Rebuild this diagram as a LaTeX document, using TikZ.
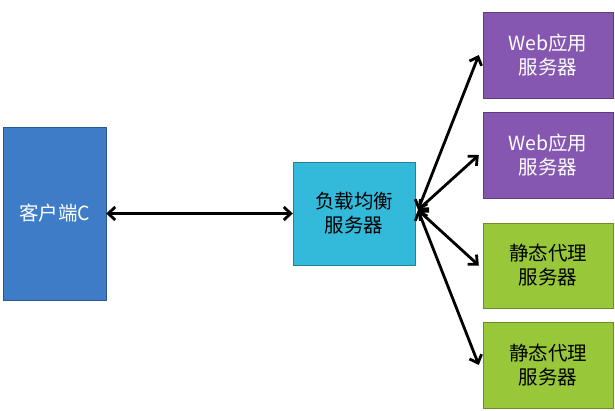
\documentclass[tikz,border=0pt]{standalone}
\usepackage{fontspec}
\newfontfamily\cjk{Noto Sans CJK SC}
\usetikzlibrary{arrows.meta}
\definecolor{cblue}{HTML}{3F7CC8}
\definecolor{ccyan}{HTML}{33B9DA}
\definecolor{cpurple}{HTML}{8657B0}
\definecolor{cgreen}{HTML}{98C83A}
\begin{document}
\begin{tikzpicture}[x=1pt,y=-1pt,
 box/.style={draw=#1!70!black,fill=#1,minimum width=0pt,inner sep=0pt,font=\cjk\fontsize{19.5}{24}\selectfont,align=center},
 link/.style={line width=2.8pt,{Straight Barb[length=7pt,width=13pt]}-{Straight Barb[length=7pt,width=13pt]}}]
\useasboundingbox (0,0) rectangle (615,410);
\node[box=cblue,text=white,minimum width=103pt,minimum height=173pt] (c) at (54.5,213.5) {客户端C};
\node[box=ccyan,minimum width=122pt,minimum height=103pt] (lb) at (354,213.5) {负载均衡\\服务器};
\node[box=cpurple,text=white,minimum width=130pt,minimum height=86pt] (w1) at (548,55) {Web应用\\服务器};
\node[box=cpurple,text=white,minimum width=130pt,minimum height=86pt] (w2) at (548,155) {Web应用\\服务器};
\node[box=cgreen,minimum width=130pt,minimum height=85pt] (s1) at (548,265.5) {静态代理\\服务器};
\node[box=cgreen,minimum width=130pt,minimum height=86pt] (s2) at (548,365) {静态代理\\服务器};
\coordinate (o) at (418,210);
\draw[link] (c.east) -- (lb.west);
\draw[link] (o) -- ([xshift=-4pt]w1.west);
\draw[link] (o) -- ([xshift=-4pt]w2.west);
\draw[link] (o) -- ([xshift=-4pt]s1.west);
\draw[link] (o) -- ([xshift=-4pt]s2.west);
\end{tikzpicture}
\end{document}
